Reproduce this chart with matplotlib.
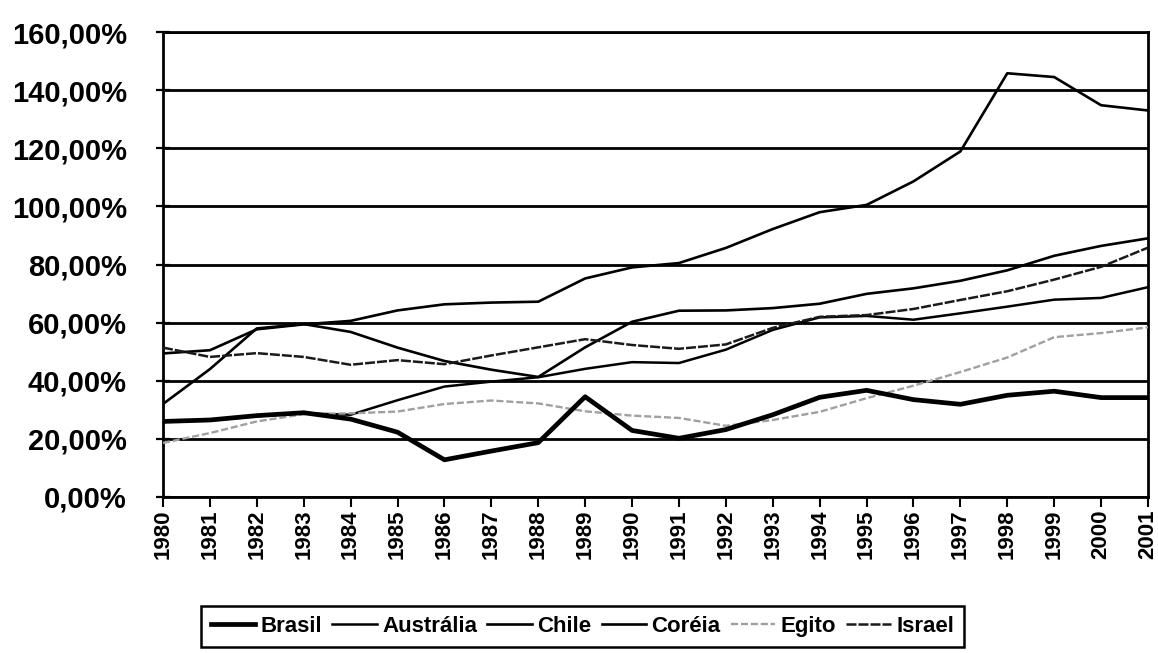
import matplotlib
matplotlib.use("Agg")
import matplotlib.pyplot as plt
from matplotlib import font_manager
from matplotlib.ticker import FuncFormatter, MultipleLocator

# Série anual 1980-2001 (% do PIB)
anos = list(range(1980, 2002))

brasil = [26.0, 26.5, 28.0, 29.0, 26.8, 22.3, 12.8, 15.8, 18.7, 34.5, 22.9,
          20.2, 23.2, 28.3, 34.3, 36.7, 33.5, 31.9, 35.0, 36.4, 34.2, 34.2]
australia = [26.0, 26.3, 27.8, 28.8, 28.3, 33.3, 38.0, 39.7, 41.2, 44.1, 46.4,
             46.1, 50.7, 57.5, 61.8, 62.3, 61.0, 63.2, 65.5, 67.9, 68.5, 72.2]
chile = [32.0, 44.0, 58.0, 59.5, 56.8, 51.4, 46.8, 43.8, 41.3, 51.5, 60.3,
         64.1, 64.2, 65.0, 66.5, 69.9, 71.8, 74.4, 78.0, 83.0, 86.4, 89.0]
coreia = [49.4, 50.5, 57.7, 59.4, 60.6, 64.2, 66.3, 66.9, 67.2, 75.2, 79.0,
          80.5, 85.7, 92.2, 98.0, 100.5, 108.6, 118.9, 145.8, 144.5, 134.8, 133.0]
egito = [18.6, 22.0, 26.0, 28.5, 28.8, 29.4, 32.0, 33.2, 32.2, 29.5, 28.0,
         27.2, 24.5, 26.5, 29.3, 34.0, 38.3, 43.0, 48.0, 55.0, 56.4, 58.4]
israel = [51.4, 48.2, 49.5, 48.2, 45.5, 47.1, 45.7, 48.7, 51.5, 54.3, 52.3,
          51.0, 52.5, 58.2, 62.0, 62.6, 64.7, 67.8, 70.8, 74.8, 79.2, 85.8]

plt.rcParams["font.family"] = ["Liberation Sans", "DejaVu Sans"]
plt.rcParams["font.weight"] = "bold"

# condensed face for the legend when available
installed = {f.name for f in font_manager.fontManager.ttflist}
narrow = "Liberation Sans Narrow" in installed

W, H = 1158, 653
fig = plt.figure(figsize=(W / 100, H / 100), dpi=100)
fig.patch.set_facecolor("white")
left, right, top, bottom = 163, 1148, 32, 497
ax = fig.add_axes([left / W, 1 - bottom / H, (right - left) / W, (bottom - top) / H])

x = list(range(len(anos)))

l_bra, = ax.plot(x, brasil, color="black", lw=3.4, label="Brasil", zorder=6)
l_aus, = ax.plot(x, australia, color="black", lw=1.8, label="Austrália", zorder=4)
l_chi, = ax.plot(x, chile, color="black", lw=1.9, label="Chile", zorder=4)
l_cor, = ax.plot(x, coreia, color="black", lw=1.9, label="Coréia", zorder=4)
l_egi, = ax.plot(x, egito, color="#a0a0a0", lw=1.7, ls=(0, (3, 1.2)),
                 label="Egito", zorder=5)
l_isr, = ax.plot(x, israel, color="#1a1a1a", lw=1.8, ls=(0, (4, 0.8)),
                 label="Israel", zorder=4)

ax.set_xlim(0, len(anos) - 1)
ax.set_ylim(0, 160)
ax.yaxis.set_major_locator(MultipleLocator(20))
ax.yaxis.set_major_formatter(
    FuncFormatter(lambda v, p: f"{v:.2f}".replace(".", ",") + "%"))
ax.grid(axis="y", color="black", lw=2.0, zorder=1)
ax.grid(axis="x", visible=False)

ax.set_xticks(x)
ax.set_xticklabels([str(a) for a in anos], rotation=90, fontsize=16,
                   fontweight="bold")
ax.tick_params(axis="x", direction="out", length=7, width=1.5, pad=2)
ax.tick_params(axis="y", direction="inout", length=10, width=1.6,
               labelsize=21, pad=21)
for lab in ax.get_yticklabels():
    lab.set_fontweight("bold")

for s in ax.spines.values():
    s.set_color("black")
    s.set_linewidth(2.0)

if narrow:
    prop = {"family": "Liberation Sans Narrow", "weight": "bold", "size": 18}
    hl, htp, cs = 2.4, 0.2, 0.45
else:
    prop = {"weight": "bold", "size": 16}
    hl, htp, cs = 2.0, 0.25, 0.45

leg = fig.legend(handles=[l_bra, l_aus, l_chi, l_cor, l_egi, l_isr],
                 loc="center", bbox_to_anchor=(0.503, 0.041), ncol=6,
                 frameon=True, fancybox=False, edgecolor="black",
                 framealpha=1, prop=prop,
                 handlelength=hl, handletextpad=htp, columnspacing=cs,
                 borderpad=0.45, borderaxespad=0)
leg.get_frame().set_linewidth(1.8)

fig.savefig("out.png", dpi=100, facecolor="white")
